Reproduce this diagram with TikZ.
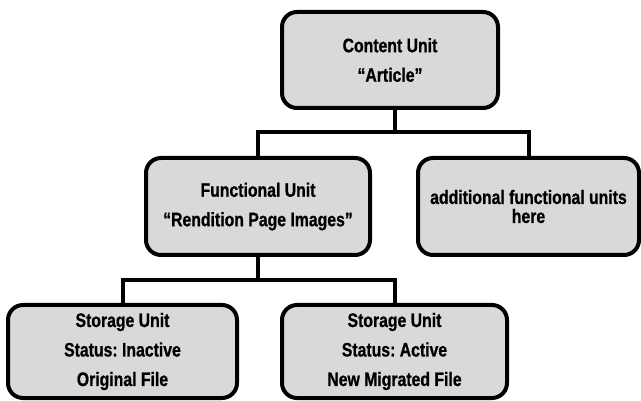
\documentclass[tikz,border=0pt]{standalone}
\usepackage{fontspec}
\setmainfont{Liberation Sans}[FakeStretch=0.81, BoldFeatures={FakeBold=0.8}]
\frenchspacing
\begin{document}
\begin{tikzpicture}[x=1pt,y=-1pt,
  unitbox/.style={draw=black, line width=4pt, fill=boxgray, rounded corners=15pt,
    inner sep=0pt, align=center, font=\bfseries\fontsize{19.5}{29.5}\selectfont},
  link/.style={draw=black, line width=4pt}]
  \definecolor{boxgray}{HTML}{D9D9D9}
  \useasboundingbox (0,0) rectangle (641,401);

  % units of the hierarchy
  \node[unitbox, minimum width=216pt, minimum height=96pt] (content) at (390,60)
    {Content Unit\\``Article''};
  \node[unitbox, minimum width=224pt, minimum height=97pt] (func) at (258,206.5)
    {Functional Unit\\``Rendition Page Images''};
  \node[unitbox, minimum width=221pt, minimum height=97pt,
    font=\bfseries\fontsize{19.5}{19}\selectfont] (more) at (528.5,206.5)
    {additional functional units\\here};
  \node[unitbox, minimum width=229pt, minimum height=93pt] (inactive) at (122.5,351.5)
    {Storage Unit\\Status: Inactive\\Original File};
  \node[unitbox, minimum width=225pt, minimum height=93pt] (active) at (394.5,351.5)
    {Storage Unit\\Status: Active\\New Migrated File};

  % branching connectors
  \coordinate (j1) at (395,132);
  \coordinate (j2) at (258,280);
  \draw[link] (content.south -| j1) -- (j1);
  \draw[link] (j1) -| (func.north);
  \draw[link] (j1) -| (more.north);
  \draw[link] (func.south) -- (j2);
  \draw[link] (j2) -| (inactive.north);
  \draw[link] (j2) -| (active.north);
\end{tikzpicture}
\end{document}
